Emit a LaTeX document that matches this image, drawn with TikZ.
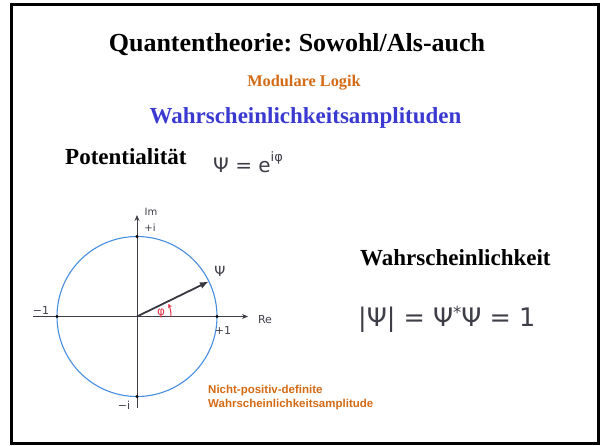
\documentclass[tikz,border=0pt]{standalone}
\usepackage{amsmath,amssymb}
\usepackage{fontspec}
\setmainfont{Liberation Serif}
\setsansfont{Liberation Sans}
\newfontfamily\handfont{DejaVu Sans}
\usetikzlibrary{arrows.meta,positioning,calc}
\usepackage{xcolor}
\definecolor{cOra}{RGB}{212,106,20}
\definecolor{cBlu}{RGB}{58,58,208}
\definecolor{cCirc}{RGB}{72,142,222}
\definecolor{cPen}{RGB}{62,62,72}
\definecolor{cRed}{RGB}{228,52,72}
\newcommand{\hsup}[2][0.55em]{\raisebox{#1}{\scalebox{0.65}{#2}}}

\begin{document}
\frenchspacing
\begin{tikzpicture}[x=1pt, y=-1pt,
  head/.style={font=\bfseries, inner sep=0pt, anchor=base},
  pen/.style={text=cPen, inner sep=0pt},
  dot/.style={circle, fill=black, inner sep=0pt, minimum size=3.4pt}]
  \useasboundingbox (0,0) rectangle (600,445);
  % frame
  \draw[line width=2.7pt] (11.3,4.7) rectangle (598.7,443.3);
  % headings
  \node[head, font=\fontsize{26}{30}\selectfont\bfseries] (title) at (297,51) {Quantentheorie: Sowohl/Als-auch};
  \node[head, font=\fontsize{16.3}{19}\selectfont\bfseries, text=cOra] (logik) at (304,86) {Modulare Logik};
  \node[head, font=\fontsize{23}{27}\selectfont\bfseries, text=cBlu] (ampl) at (305.5,123) {Wahrscheinlichkeitsamplituden};
  % potentiality
  \node[head, anchor=base west, font=\fontsize{23}{27}\selectfont\bfseries] (pot) at (65,164) {Potentialit\"at};
  \node[pen, anchor=base west, font=\handfont\fontsize{20}{24}\selectfont] (psidef) at (213,172) {Ψ = e\hsup{iφ}};
  % probability
  \node[head, anchor=base west, font=\fontsize{23}{27}\selectfont\bfseries] (wahr) at (360,265) {Wahrscheinlichkeit};
  \node[pen, anchor=base west, font=\handfont\fontsize{25.5}{29}\selectfont] (norm) at (358,326) {|Ψ| = Ψ\hsup[0.3em]{*}Ψ = 1};
  % complex plane
  \coordinate (O) at (137,316.5);
  \coordinate (reL) at (33,316.5);
  \coordinate (reR) at (248,316.5);
  \coordinate (imB) at (137,408);
  \coordinate (imT) at (137,215);
  \draw[cCirc, line width=1.1pt] (O) circle[radius=80];
  \draw[cPen, line width=0.8pt, -{Stealth[length=6pt,width=5pt]}] (reL) -- (reR);
  \draw[cPen, line width=0.8pt, -{Stealth[length=6pt,width=5pt]}] (imB) -- (imT);
  \foreach \n/\dx/\dy in {p1/80/0, m1/-80/0, pi/0/-80, mi/0/80} {
    \node[dot] (\n) at ($(O)+(\dx,\dy)$) {};
  }
  % axis labels
  \node[pen, font=\handfont\fontsize{11}{13}\selectfont] (re) at (265,320) {Re};
  \node[pen, font=\handfont\fontsize{10}{12}\selectfont] (im) at (151,212) {Im};
  \node[pen, font=\handfont\fontsize{10}{12}\selectfont] (lpi) at (150,228) {+i};
  \node[pen, font=\handfont\fontsize{11}{13}\selectfont] (lmi) at (124,405) {−i};
  \node[pen, font=\handfont\fontsize{11}{13}\selectfont] (lm1) at (41,310) {−1};
  \node[pen, font=\handfont\fontsize{11}{13}\selectfont] (lp1) at (223,330) {+1};
  % state vector
  \coordinate (psi) at ($(O)+(71.9,-35.1)$);
  \draw[cPen!90!black, line width=1.8pt, -{Latex[length=9pt,width=7pt]}] (O) -- (psi);
  \node[pen, font=\handfont\fontsize{14}{16}\selectfont] (lpsi) at (220,271) {Ψ};
  % phase
  \draw[cRed, line width=1pt, -{Stealth[length=4pt,width=4pt]}] ($(O)+(34,0)$) arc[start angle=0, end angle=-22, radius=34];
  \node[text=cRed, inner sep=0pt, font=\handfont\fontsize{12}{14}\selectfont] (phi) at (161,313) {φ};
  % note
  \node[anchor=north west, inner sep=0pt, align=left, text=cOra,
        font=\sffamily\bfseries\fontsize{11.5}{14}\selectfont] (note) at (208,384.5)
        {Nicht-positiv-definite\\Wahrscheinlichkeitsamplitude};
\end{tikzpicture}
\end{document}
